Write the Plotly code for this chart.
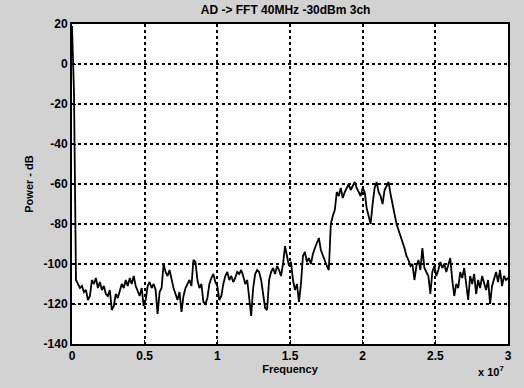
import numpy as np
import plotly.graph_objects as go

# FFT power spectrum (dB), uniformly spaced bins 0..3e7 Hz
power_db = [
    19, -14, -108, -110, -112, -111, -114, -113, -118, -116,
    -108, -110, -107, -112, -109, -113, -111, -115, -116, -113,
    -123, -121, -115, -117, -113, -110, -112, -108, -111, -107,
    -110, -106, -111, -114, -116, -112, -121, -118, -111, -109,
    -112, -110, -113, -125, -114, -112, -100, -104, -106, -103,
    -108, -112, -115, -118, -114, -124, -116, -112, -110, -108,
    -111, -98, -99, -108, -112, -110, -119, -120, -117, -110,
    -107, -105, -109, -111, -118, -116, -110, -106, -104, -108,
    -106, -109, -107, -104, -105, -103, -106, -110, -108, -118,
    -126, -112, -105, -103, -104, -108, -115, -122, -123, -108,
    -104, -102, -105, -101, -103, -106, -100, -91, -96, -101,
    -99, -108, -113, -110, -119, -110, -96, -94, -99, -97,
    -100, -95, -92, -89, -87, -93, -96, -98, -101, -103,
    -80, -76, -73, -64, -66, -62, -67, -64, -62, -60,
    -63, -61, -59, -62, -64, -66, -62, -64, -72, -76,
    -80, -70, -62, -59, -64, -66, -70, -63, -61, -59,
    -65, -70, -76, -80, -83, -86, -88, -92, -96, -98,
    -101, -100, -108, -101, -98, -103, -92, -102, -104, -106,
    -115, -104, -101, -106, -103, -99, -102, -100, -104, -101,
    -97, -108, -116, -110, -112, -104, -107, -102, -109, -118,
    -106, -110, -105, -115, -108, -112, -106, -110, -113, -108,
    -120, -111, -107, -104, -109, -103, -111, -106, -108, -107,
]
f_max = 3e7
bin_width = f_max / (len(power_db) - 1)
freq = np.arange(len(power_db)) * bin_width

x_tickvals = [0, 0.5e7, 1e7, 1.5e7, 2e7, 2.5e7, 3e7]
x_ticktext = ["0", "0.5", "1", "1.5", "2", "2.5", "3"]
y_tickvals = [20, 0, -20, -40, -60, -80, -100, -120, -140]
y_ticktext = ["20", "0", "-20", "-40", "-60", "-80", "-100", "-120", "-140"]

title_text = "AD -> FFT 40MHz -30dBm 3ch"
x_label = "Frequency"
y_label = "Power - dB"

font_family = "Liberation Sans, Arial, sans-serif"

fig = go.Figure()
fig.add_trace(go.Scatter(
    x=freq, y=power_db, mode="lines",
    line=dict(color="black", width=1.8),
    showlegend=False,
))

axis_common = dict(
    showline=True, linecolor="black", linewidth=2, mirror=True,
    showgrid=True, gridcolor="black", gridwidth=1.5, griddash="dot",
    zeroline=False, ticks="inside", ticklen=4, tickcolor="black",
    tickfont=dict(family=font_family, size=12, color="black", weight="bold"),
)

fig.update_layout(
    width=524, height=388,
    margin=dict(l=72, r=14, t=24, b=44),
    paper_bgcolor="#d2d2d2",
    plot_bgcolor="white",
    title=dict(text=title_text, x=0.545, xanchor="center", y=0.975, yanchor="middle",
               font=dict(family=font_family, size=12, color="black", weight="bold")),
    xaxis=dict(range=[0, 3e7], tickvals=x_tickvals, ticktext=x_ticktext,
               title=dict(text=x_label, standoff=2,
                          font=dict(family=font_family, size=11, color="black", weight="bold")),
               **axis_common),
    yaxis=dict(range=[-140, 20], tickvals=y_tickvals, ticktext=y_ticktext,
               title=dict(text=y_label, standoff=8,
                          font=dict(family=font_family, size=11, color="black", weight="bold")),
               **axis_common),
    annotations=[dict(
        text="x 10<sup>7</sup>", xref="paper", yref="paper", x=0.96, y=-0.055,
        xanchor="center", yanchor="top", showarrow=False,
        font=dict(family=font_family, size=11, color="black", weight="bold"),
    )],
)

fig.write_html("out.html")
